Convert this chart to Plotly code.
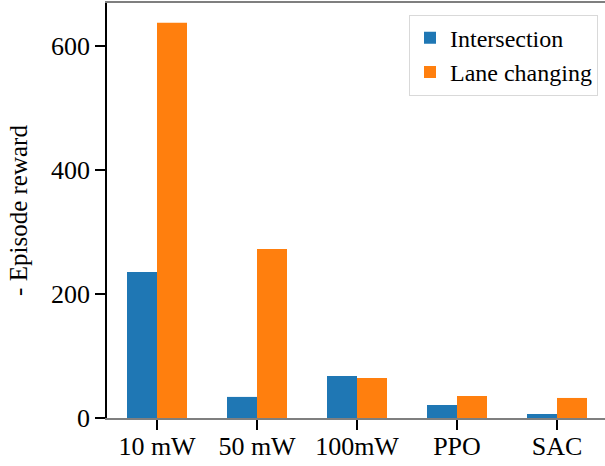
import plotly.graph_objects as go

categories = ["10 mW", "50 mW", "100mW", "PPO", "SAC"]
intersection = [235.5, 34, 67.7, 21, 6.5]
lane_changing = [637, 272.6, 64.5, 35.5, 32.3]
y_ticks = [0, 200, 400, 600]

font = "Liberation Serif, DejaVu Serif, serif"

fig = go.Figure()
fig.add_bar(x=categories, y=intersection, name="Intersection", marker_color="#1f77b4", marker_line_width=0)
fig.add_bar(x=categories, y=lane_changing, name="Lane changing", marker_color="#ff7f0e", marker_line_width=0)

fig.update_layout(
    width=607, height=466,
    margin=dict(l=107, r=0, t=3, b=48),
    paper_bgcolor="white", plot_bgcolor="white",
    barmode="group", bargap=0.4, bargroupgap=0,
    font=dict(family=font, size=26, color="black"),
    showlegend=True,
    legend=dict(x=0.982, y=0.972, xanchor="right", yanchor="top",
                bordercolor="#d9d9d9", borderwidth=1, bgcolor="white",
                font=dict(size=24), itemwidth=30, tracegroupgap=0),
    xaxis=dict(range=[-0.5, 4.5], showline=True, linecolor="#7f7f7f", linewidth=2,
               mirror=True, ticks="outside", ticklen=10, tickcolor="black", tickwidth=1.5,
               showgrid=False, zeroline=False, tickfont=dict(size=26), ticklabelstandoff=-6),
    yaxis=dict(range=[0, 669], tickvals=y_ticks, showline=True, linecolor="black", linewidth=1.5,
               ticks="outside", ticklen=10, tickcolor="black", tickwidth=1.5,
               showgrid=False, zeroline=False, tickfont=dict(size=26),
               title=dict(text="- Episode reward", font=dict(size=25), standoff=16)),
)

fig.write_html("out.html", config={"displayModeBar": False},
               post_script="document.body.style.margin='0';document.body.style.overflow='hidden';")
